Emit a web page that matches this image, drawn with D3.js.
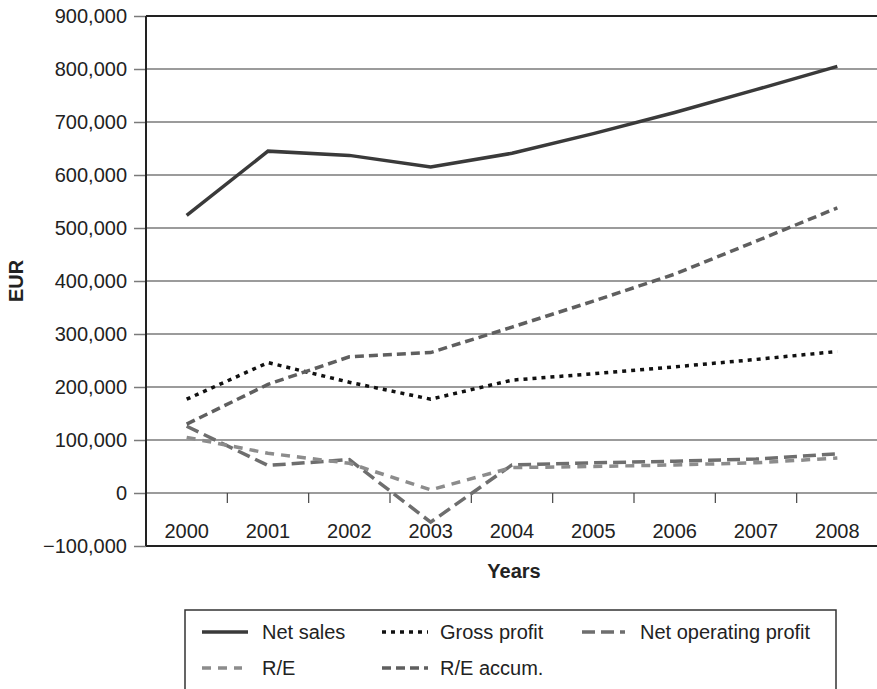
<!DOCTYPE html>
<html>
<head>
<meta charset="utf-8">
<script src="https://cdn.jsdelivr.net/npm/d3@7"></script>
<style>
body { margin: 0; background: #fff; }
text { font-family: "Liberation Sans", Arial, Helvetica, sans-serif; }
</style>
</head>
<body>
<div id="chart"></div>
<script>
const width = 877
const height = 689

const years = ['2000', '2001', '2002', '2003', '2004', '2005', '2006', '2007', '2008']
const netSales = [524000, 645000, 637000, 615000, 641000, 678000, 718000, 761000, 805000]
const grossProfit = [177000, 246000, 209000, 177000, 213000, 225000, 238000, 252000, 267000]
const netOperatingProfit = [126000, 52000, 63000, -55000, 53000, 57000, 60000, 64000, 74000]
const retainedEarnings = [105000, 75000, 56000, 6000, 48000, 50000, 53000, 57000, 66000]
const retainedAccum = [130000, 205000, 257000, 265000, 313000, 362000, 413000, 475000, 538000]
const yTicks = [-100000, 0, 100000, 200000, 300000, 400000, 500000, 600000, 700000, 800000, 900000]

const series = [
    {name: 'Net sales', values: netSales, color: '#3a3a3a', dash: null, width: 3.5},
    {name: 'Gross profit', values: grossProfit, color: '#111', dash: '4,5', width: 3.5},
    {name: 'Net operating profit', values: netOperatingProfit, color: '#6e6e6e', dash: '13,6', width: 3.5},
    {name: 'R/E', values: retainedEarnings, color: '#8c8c8c', dash: '9,7', width: 3.5},
    {name: 'R/E accum.', values: retainedAccum, color: '#5f5f5f', dash: '9,5', width: 3.5}
]

const plotLeft = 146, plotRight = 878, plotTop = 16, plotBottom = 546

const svg = d3.select('#chart')
    .append('svg')
    .attr('width', width)
    .attr('height', height)

const x = d3.scaleBand().domain(years).range([plotLeft, plotRight])
const y = d3.scaleLinear().domain([-100000, 900000]).range([plotBottom, plotTop])
const cx = d => x(d) + x.bandwidth() / 2

const fmt = v => (v < 0 ? '\u2212' : '') + d3.format(',')(Math.abs(v))

/* grid */
svg.append('g')
    .selectAll('line')
    .data(yTicks.filter(v => v > -100000 && v < 900000))
    .enter()
    .append('line')
    .attr('x1', plotLeft)
    .attr('x2', plotRight)
    .attr('y1', d => y(d))
    .attr('y2', d => y(d))
    .attr('stroke', '#7a7a7a')
    .attr('stroke-width', 1.5)

/* y axis */
const yAxis = svg.append('g')
    .attr('transform', `translate(${plotLeft},0)`)
    .call(d3.axisLeft(y).tickValues(yTicks).tickFormat(fmt).tickSize(12).tickPadding(7))
yAxis.select('.domain').remove()
yAxis.selectAll('line').attr('stroke', '#7a7a7a').attr('stroke-width', 1.5)
yAxis.selectAll('text')
    .attr('font-size', 20)
    .attr('fill', '#222')
    .style('font-family', '"Liberation Sans", Arial, sans-serif')

/* x ticks at category boundaries below the zero line */
svg.append('g')
    .selectAll('line')
    .data(years.slice(1))
    .enter()
    .append('line')
    .attr('x1', d => x(d))
    .attr('x2', d => x(d))
    .attr('y1', y(0))
    .attr('y2', y(0) + 10)
    .attr('stroke', '#444')
    .attr('stroke-width', 1.2)

svg.append('g')
    .selectAll('text')
    .data(years)
    .enter()
    .append('text')
    .attr('x', d => cx(d))
    .attr('y', 538)
    .attr('text-anchor', 'middle')
    .attr('font-size', 20)
    .attr('fill', '#222')
    .text(d => d)

/* frame */
svg.append('line').attr('x1', plotLeft).attr('x2', plotRight).attr('y1', plotTop).attr('y2', plotTop)
    .attr('stroke', '#222').attr('stroke-width', 2)
svg.append('line').attr('x1', plotLeft).attr('x2', plotRight).attr('y1', plotBottom).attr('y2', plotBottom)
    .attr('stroke', '#222').attr('stroke-width', 2)
svg.append('line').attr('x1', plotLeft).attr('x2', plotLeft).attr('y1', plotTop).attr('y2', plotBottom)
    .attr('stroke', '#222').attr('stroke-width', 2)

/* lines */
const line = d3.line()
    .x((d, i) => cx(years[i]))
    .y(d => y(d))

svg.append('g')
    .selectAll('path')
    .data(series)
    .enter()
    .append('path')
    .attr('d', d => line(d.values))
    .attr('fill', 'none')
    .attr('stroke', d => d.color)
    .attr('stroke-width', d => d.width)
    .attr('stroke-dasharray', d => d.dash)

/* axis titles */
svg.append('text')
    .attr('transform', 'translate(23,281) rotate(-90)')
    .attr('text-anchor', 'middle')
    .attr('font-size', 20)
    .attr('font-weight', 'bold')
    .attr('fill', '#222')
    .text('EUR')
svg.append('text')
    .attr('x', 514)
    .attr('y', 578)
    .attr('text-anchor', 'middle')
    .attr('font-size', 20)
    .attr('font-weight', 'bold')
    .attr('fill', '#222')
    .text('Years')

/* legend */
svg.append('rect')
    .attr('x', 185)
    .attr('y', 610)
    .attr('width', 651)
    .attr('height', 100)
    .attr('fill', 'none')
    .attr('stroke', '#333')
    .attr('stroke-width', 1.5)

const legendPos = [
    {x: 202, y: 632, tx: 262},
    {x: 382, y: 632, tx: 440},
    {x: 582, y: 632, tx: 640},
    {x: 202, y: 668, tx: 262},
    {x: 382, y: 668, tx: 440}
]
const legendWidth = [46, 46, 43, 40, 46]

const legend = svg.append('g')
    .selectAll('g')
    .data(series)
    .enter()
    .append('g')
legend.append('line')
    .attr('x1', (d, i) => legendPos[i].x)
    .attr('x2', (d, i) => legendPos[i].x + legendWidth[i])
    .attr('y1', (d, i) => legendPos[i].y)
    .attr('y2', (d, i) => legendPos[i].y)
    .attr('stroke', d => d.color)
    .attr('stroke-width', d => d.width)
    .attr('stroke-dasharray', d => d.dash)
legend.append('text')
    .attr('x', (d, i) => legendPos[i].tx)
    .attr('y', (d, i) => legendPos[i].y + 7)
    .attr('font-size', 20)
    .attr('fill', '#222')
    .text(d => d.name)
</script>
</body>
</html>
